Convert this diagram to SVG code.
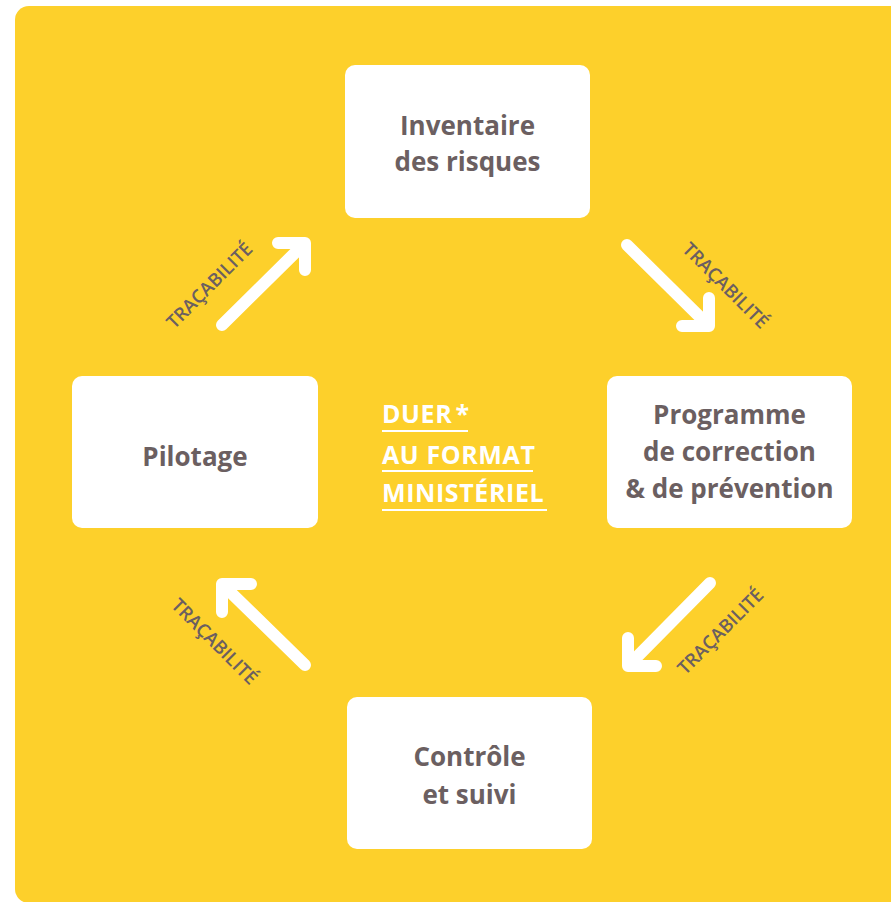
<svg xmlns="http://www.w3.org/2000/svg" width="891" height="902" viewBox="0 0 891 902">
<style>
.node rect{fill:#ffffff}
.node text{font-family:"Open Sans","Liberation Sans",sans-serif;font-weight:700;font-size:26px;fill:#6b5f61;text-anchor:middle}
.arrow{fill:none;stroke:#ffffff;stroke-width:12;stroke-linecap:round;stroke-linejoin:round}
.lbl{font-family:"Open Sans","Liberation Sans",sans-serif;font-weight:600;font-size:18.5px;fill:#6b5f61;text-anchor:middle}
.center text{font-family:"Open Sans","Liberation Sans",sans-serif;font-weight:700;font-size:25px;letter-spacing:0.6px;fill:#ffffff}
.center line{stroke:#ffffff;stroke-width:2}
</style>
<rect x="15" y="6" width="900" height="897" rx="14" fill="#fdd02b"/>
<g id="n-inventaire" class="node">
<rect x="345" y="65" width="245" height="153" rx="10"/>
<text x="467.5" y="135">Inventaire</text>
<text x="467.5" y="171">des risques</text>
</g>
<g id="n-programme" class="node">
<rect x="607" y="376" width="245" height="152" rx="10"/>
<text x="729.5" y="424">Programme</text>
<text x="729.5" y="461">de correction</text>
<text x="729.5" y="498">&amp; de prévention</text>
</g>
<g id="n-controle" class="node">
<rect x="347" y="697" width="245" height="152" rx="10"/>
<text x="469.5" y="766">Contrôle</text>
<text x="469.5" y="804">et suivi</text>
</g>
<g id="n-pilotage" class="node">
<rect x="72" y="376" width="246" height="152" rx="10"/>
<text x="195" y="466">Pilotage</text>
</g>
<g id="center" class="center">
<text x="382" y="423" word-spacing="-4">DUER *</text>
<line x1="382" y1="431" x2="468" y2="431"/>
<text x="382" y="464">AU FORMAT</text>
<line x1="382" y1="471" x2="533" y2="471"/>
<text x="382" y="502">MINISTÉRIEL</text>
<line x1="382" y1="510" x2="547" y2="510"/>
</g>
<g id="connectors">
<path class="arrow" d="M222 325 L305 243 M278 243 L305 243 L305 270"/>
<path class="arrow" d="M627 245 L709 326 M709 298 L709 326 L682 326"/>
<path class="arrow" d="M710 583 L628 666 M628 638 L628 666 L656 666"/>
<path class="arrow" d="M305 665 L222 584 M251 584 L222 584 L222 612"/>
<text class="lbl" transform="translate(214 290) rotate(-45)">TRAÇABILITÉ</text>
<text class="lbl" transform="translate(721 290) rotate(45)">TRAÇABILITÉ</text>
<text class="lbl" transform="translate(725 636) rotate(-45)">TRAÇABILITÉ</text>
<text class="lbl" transform="translate(210 646) rotate(45)">TRAÇABILITÉ</text>
</g>
</svg>
